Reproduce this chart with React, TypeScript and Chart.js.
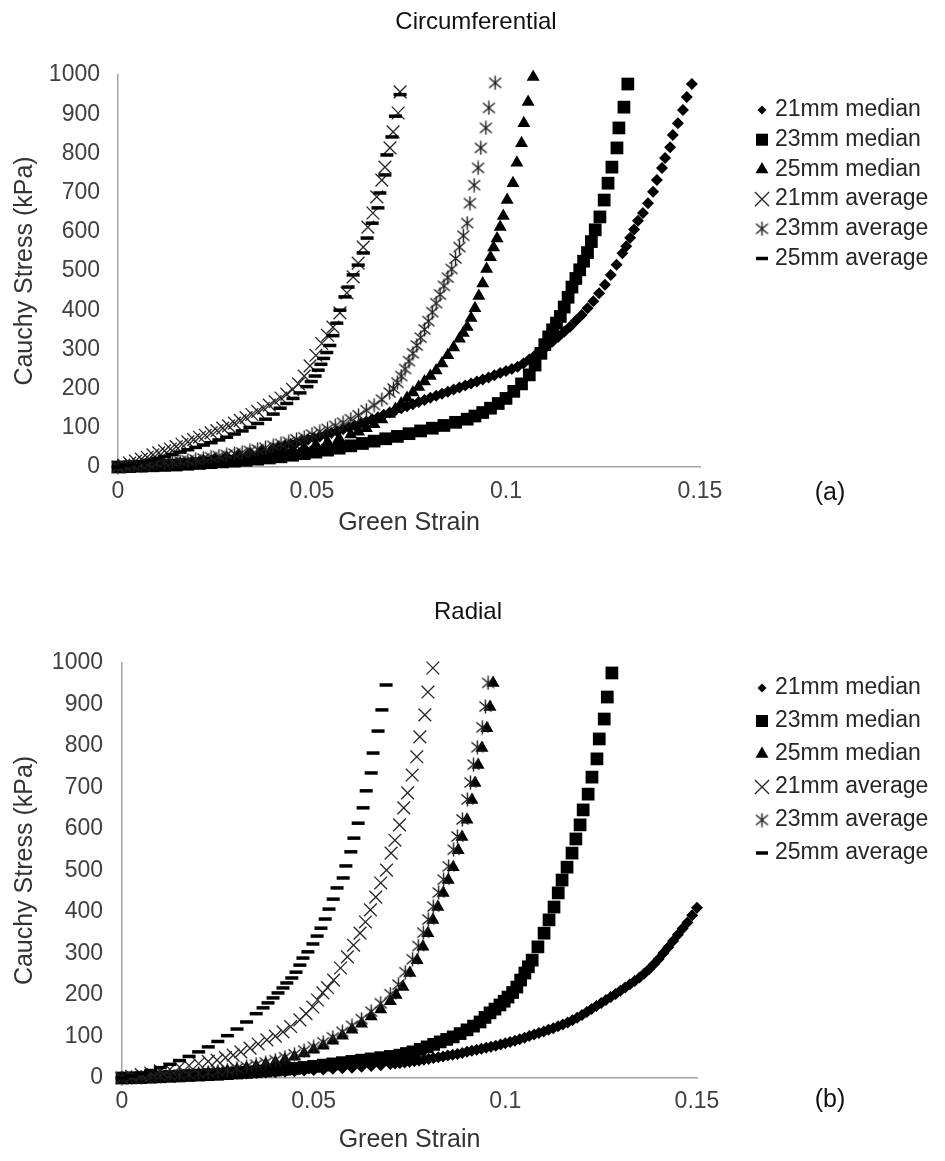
import React, { useEffect, useRef } from 'react';
import { Chart, registerables } from 'chart.js';
import { drawPoint } from 'chart.js/helpers';

Chart.register(...registerables);

type Pt = [number, number];

const FONT = '"Liberation Sans", Arial, sans-serif';

const seriesLabels = ['21mm median', '23mm median', '25mm median', '21mm average', '23mm average', '25mm average'];
const chartTitles = ['Circumferential', 'Radial'];
const panelLabels = ['(a)', '(b)'];
const xAxisTitle = 'Green Strain';
const yAxisTitle = 'Cauchy Stress (kPa)';
const xTickValues = [0, 0.05, 0.1, 0.15];
const xTickLabels = ['0', '0.05', '0.1', '0.15'];
const yTickValues = [0, 100, 200, 300, 400, 500, 600, 700, 800, 900, 1000];
const yTickLabels = ['0', '100', '200', '300', '400', '500', '600', '700', '800', '900', '1000'];

// ---------- Circumferential ----------
const circ21Median: Pt[] = [[0,0],[0.002,1],[0.004,2],[0.006,3],[0.008,4],[0.01,6],[0.013,8],[0.016,11],[0.019,14],[0.022,18],[0.025,22],[0.028,26],[0.031,31],[0.034,36],[0.037,42],[0.04,48],[0.0415,51.5],[0.043,55],[0.0445,58.5],[0.046,62],[0.0475,66],[0.049,70],[0.0505,74],[0.052,78],[0.0535,82.5],[0.055,87],[0.0565,91.5],[0.058,96],[0.0595,101],[0.061,106],[0.0625,111],[0.064,116],[0.0655,121.5],[0.067,127],[0.0685,133],[0.07,139],[0.0715,144.5],[0.073,150],[0.0745,155],[0.076,160],[0.0775,165.5],[0.079,171],[0.0805,176.5],[0.082,182],[0.0835,187],[0.085,192],[0.0865,197.5],[0.088,203],[0.0895,208],[0.091,213],[0.0925,218],[0.094,223],[0.0955,228.5],[0.097,234],[0.0985,239.5],[0.1,245],[0.1015,250],[0.103,256],[0.1045,264],[0.106,274],[0.1075,285],[0.109,296],[0.1105,308],[0.112,320],[0.1135,332],[0.115,345],[0.1165,358],[0.118,373],[0.1195,388],[0.121,405],[0.1225,423],[0.124,443],[0.1255,465],[0.127,490],[0.1285,516],[0.13,545],[0.131,563],[0.132,585],[0.133,606],[0.134,628],[0.1353,648],[0.1366,673],[0.1379,702],[0.1389,732],[0.1402,763],[0.141,788],[0.1423,816],[0.143,847],[0.1443,877],[0.1456,911],[0.1466,944],[0.1479,977]];
const circ23Median: Pt[] = [[0,0],[0.003,1],[0.006,2],[0.009,3],[0.012,4],[0.015,5],[0.018,7],[0.021,9],[0.024,11],[0.027,13],[0.03,15],[0.033,17],[0.036,20],[0.039,23],[0.042,26],[0.045,30],[0.048,34],[0.051,38],[0.054,43],[0.057,48],[0.06,54],[0.063,60],[0.066,66],[0.069,72],[0.072,78],[0.075,85],[0.078,92],[0.081,99],[0.084,106],[0.087,114],[0.09,122],[0.092,130],[0.094,139],[0.096,150],[0.098,162],[0.1,175],[0.102,193],[0.104,212],[0.106,235],[0.1075,260],[0.109,290],[0.11,312],[0.111,332],[0.112,350],[0.113,367],[0.114,384],[0.115,408],[0.116,433],[0.117,459],[0.118,481],[0.119,503],[0.12,525],[0.121,547],[0.122,575],[0.123,605],[0.1242,638],[0.1253,681],[0.1263,724],[0.1273,765],[0.1286,814],[0.1291,865],[0.1304,918],[0.1314,977]];
const circ25Median: Pt[] = [[0,0],[0.003,1],[0.006,2],[0.009,3],[0.012,5],[0.015,6],[0.018,8],[0.021,11],[0.024,14],[0.027,17],[0.03,20],[0.033,24],[0.036,28],[0.039,33],[0.042,38],[0.045,44],[0.048,50],[0.051,57],[0.054,64],[0.057,73],[0.06,83],[0.062,90],[0.064,99],[0.066,109],[0.068,121],[0.07,135],[0.0715,148],[0.073,162],[0.0745,176],[0.076,190],[0.0775,204],[0.079,218],[0.0805,232],[0.082,246],[0.0835,264],[0.085,285],[0.0865,305],[0.088,327],[0.089,342],[0.09,357],[0.091,380],[0.092,405],[0.093,436],[0.094,468],[0.095,505],[0.096,535],[0.0968,560],[0.0977,583],[0.0985,612],[0.0993,640],[0.1003,681],[0.1018,724],[0.1028,776],[0.104,826],[0.1046,877],[0.1057,931],[0.107,995]];
const circ21Average: Pt[] = [[0,0],[0.0015,5],[0.003,10],[0.0045,15],[0.006,20],[0.0075,25],[0.009,31],[0.0105,36],[0.012,41],[0.0135,46],[0.015,52],[0.0165,58],[0.018,64],[0.0195,70],[0.021,76],[0.0225,81],[0.024,87],[0.0255,93],[0.027,99],[0.0285,105],[0.03,112],[0.0315,119],[0.033,126],[0.0345,134],[0.036,142],[0.0375,150],[0.039,158],[0.0405,167],[0.042,176],[0.0435,186],[0.045,198],[0.0465,212],[0.048,232],[0.0495,258],[0.051,285],[0.0525,315],[0.054,336],[0.0554,357],[0.0572,393],[0.059,444],[0.0606,485],[0.0619,520],[0.0632,561],[0.0644,612],[0.0657,648],[0.0667,689],[0.068,732],[0.0688,765],[0.0701,814],[0.0709,855],[0.0722,903],[0.0727,957]];
const circ23Average: Pt[] = [[0,0],[0.002,1],[0.004,3],[0.006,5],[0.008,7],[0.01,9],[0.012,11],[0.014,13],[0.016,15],[0.018,17],[0.02,19],[0.022,22],[0.024,25],[0.026,28],[0.028,31],[0.03,34],[0.032,37],[0.034,41],[0.036,45],[0.038,49],[0.04,54],[0.042,59],[0.044,64],[0.046,70],[0.048,76],[0.05,83],[0.052,90],[0.054,97],[0.056,105],[0.058,113],[0.06,122],[0.062,132],[0.064,145],[0.066,158],[0.068,172],[0.07,190],[0.071,200],[0.072,215],[0.073,232],[0.074,250],[0.075,270],[0.076,290],[0.077,310],[0.078,330],[0.079,351],[0.08,372],[0.081,395],[0.082,418],[0.083,440],[0.084,462],[0.085,483],[0.086,505],[0.087,532],[0.088,561],[0.089,590],[0.09,622],[0.0907,673],[0.0918,719],[0.0928,763],[0.0935,814],[0.0948,865],[0.0956,916],[0.0972,980]];
const circ25Average: Pt[] = [[0,0],[0.002,4],[0.004,8],[0.006,12],[0.008,17],[0.01,22],[0.012,27],[0.014,32],[0.016,38],[0.018,44],[0.02,50],[0.022,56],[0.024,62],[0.026,69],[0.028,76],[0.03,84],[0.032,92],[0.034,101],[0.036,111],[0.038,122],[0.04,135],[0.0418,150],[0.0435,162],[0.0451,175],[0.0469,189],[0.0487,205],[0.0498,218],[0.0508,232],[0.0516,247],[0.0523,262],[0.053,277],[0.0538,292],[0.0546,310],[0.0554,335],[0.0564,367],[0.0572,400],[0.0585,434],[0.0593,459],[0.0606,490],[0.0619,515],[0.0632,546],[0.0642,584],[0.0655,622],[0.067,661],[0.0675,699],[0.0688,745],[0.0693,796],[0.0706,842],[0.0715,895],[0.0727,950]];

// ---------- Radial ----------
const rad21Median: Pt[] = [[0,0],[0.0025,1],[0.005,2],[0.0075,3],[0.01,4],[0.0125,4.5],[0.015,5],[0.0175,6],[0.02,7],[0.0225,7.5],[0.025,8],[0.0275,9],[0.03,10],[0.0325,11],[0.035,12],[0.0375,13],[0.04,14],[0.0425,15],[0.045,16.5],[0.0475,18],[0.05,19],[0.0525,20.5],[0.055,22],[0.0575,23.5],[0.06,25],[0.0625,27],[0.065,29],[0.0675,31],[0.07,33.5],[0.07125,34.7],[0.0725,36],[0.07375,37.5],[0.075,39],[0.07625,40.5],[0.0775,42],[0.07875,44],[0.08,46],[0.08125,48],[0.0825,50],[0.08375,52],[0.085,54],[0.08625,56],[0.0875,58],[0.08875,60.5],[0.09,63],[0.09125,65.5],[0.0925,68],[0.09375,70.5],[0.095,73],[0.09625,75.5],[0.0975,78],[0.09875,81],[0.1,84],[0.10125,87],[0.1025,90],[0.10375,93.5],[0.105,97],[0.10625,101],[0.1075,105],[0.10875,108.5],[0.11,112],[0.11125,116],[0.1125,120],[0.11375,124.5],[0.115,129],[0.11625,134],[0.1175,139],[0.11875,145],[0.12,152],[0.12125,159],[0.1225,166],[0.12375,173.5],[0.125,181],[0.12625,188],[0.1275,195],[0.12875,202.5],[0.13,210],[0.13125,218],[0.1325,226],[0.13375,234],[0.135,242],[0.13625,252],[0.1375,262],[0.13875,274],[0.14,287],[0.14125,301],[0.1425,315],[0.14375,330],[0.145,345],[0.14625,360],[0.1475,375],[0.14875,392],[0.15,410]];
const rad23Median: Pt[] = [[0,0],[0.0025,0.5],[0.005,1],[0.0075,2],[0.01,3],[0.0125,4],[0.015,5],[0.0175,6],[0.02,7],[0.0225,8],[0.025,9],[0.0275,10.5],[0.03,12],[0.0325,13.5],[0.035,15],[0.0375,17],[0.04,19],[0.0425,21],[0.045,23],[0.0475,25.5],[0.05,28],[0.0525,31],[0.055,34],[0.0575,37],[0.06,40],[0.0625,43],[0.065,46],[0.0675,49],[0.07,52],[0.0725,55],[0.0742,59],[0.0759,63],[0.0778,69],[0.0796,75],[0.0813,81],[0.083,87],[0.0847,93],[0.0864,99],[0.0882,107],[0.09,116],[0.0917,125],[0.0934,135],[0.0947,146],[0.096,157],[0.0973,166],[0.0986,176],[0.0997,185],[0.1007,195],[0.1019,206],[0.103,219],[0.104,236],[0.1051,253],[0.106,268],[0.107,284],[0.1085,316],[0.1101,349],[0.1114,381],[0.1127,412],[0.1138,446],[0.1148,477],[0.1161,508],[0.1174,542],[0.1184,576],[0.1195,610],[0.1203,646],[0.1216,684],[0.1226,725],[0.1239,769],[0.1245,817],[0.1258,865],[0.1266,918],[0.1278,976]];
const rad25Median: Pt[] = [[0,0],[0.0025,0.5],[0.005,1],[0.0075,2],[0.01,3],[0.0125,4],[0.015,5.5],[0.0175,7],[0.02,9],[0.0225,11.5],[0.025,14],[0.0275,17],[0.03,20],[0.0325,24],[0.035,28],[0.0375,33],[0.04,38],[0.0425,44],[0.045,51],[0.0475,59],[0.05,68],[0.0525,78],[0.055,90],[0.0575,102],[0.06,116],[0.0625,131],[0.065,148],[0.0675,165],[0.07,185],[0.0715,200],[0.0733,219],[0.0751,253],[0.077,284],[0.0785,316],[0.0798,349],[0.0811,381],[0.0824,412],[0.0838,446],[0.0851,477],[0.0864,508],[0.0877,549],[0.0887,581],[0.09,622],[0.0913,670],[0.0921,711],[0.0929,754],[0.0939,795],[0.0952,843],[0.096,894],[0.0968,952]];
const rad21Average: Pt[] = [[0,0],[0.0025,4],[0.005,8],[0.0075,12],[0.01,17],[0.0125,21],[0.015,26],[0.0175,30],[0.02,35],[0.0225,40],[0.0248,43],[0.027,49],[0.029,55],[0.031,63],[0.0334,72],[0.0355,82],[0.0378,92],[0.04,101],[0.042,111],[0.044,124],[0.0464,140],[0.048,155],[0.0498,171],[0.051,188],[0.0524,205],[0.0536,218],[0.0552,236],[0.057,265],[0.0588,292],[0.0604,320],[0.0621,349],[0.0635,376],[0.0648,405],[0.0662,436],[0.0675,470],[0.069,501],[0.0702,542],[0.0712,573],[0.0724,610],[0.0735,651],[0.0745,687],[0.0757,730],[0.0769,774],[0.0777,822],[0.079,875],[0.0798,930],[0.0811,988]];
const rad23Average: Pt[] = [[0,0],[0.0025,1],[0.005,2],[0.0075,3],[0.01,4],[0.0125,5.5],[0.015,7],[0.0175,9],[0.02,11],[0.0225,13.5],[0.025,16],[0.0275,19],[0.03,23],[0.0325,27],[0.035,32],[0.0375,37],[0.04,43],[0.0425,50],[0.045,57],[0.0475,66],[0.05,75],[0.0525,86],[0.055,98],[0.0575,111],[0.06,126],[0.0625,142],[0.065,160],[0.0675,180],[0.07,202],[0.0721,225],[0.0739,255],[0.0758,286],[0.0773,318],[0.0786,350],[0.0799,382],[0.0812,413],[0.0826,447],[0.0839,478],[0.0852,510],[0.0865,550],[0.0875,582],[0.0888,623],[0.0901,671],[0.0909,712],[0.0917,755],[0.0927,797],[0.094,845],[0.0948,895],[0.0955,952]];
const rad25Average: Pt[] = [[0,0],[0.0025,5],[0.005,11],[0.0075,18],[0.01,25],[0.0125,33],[0.015,42],[0.0175,52],[0.02,63],[0.0225,75],[0.025,88],[0.0275,102],[0.03,118],[0.0325,135],[0.035,155],[0.0368,169],[0.0381,181],[0.0394,193],[0.0407,205],[0.042,217],[0.043,229],[0.0443,241],[0.0454,255],[0.0464,272],[0.0472,289],[0.0485,304],[0.0498,323],[0.0509,342],[0.0519,361],[0.053,383],[0.054,407],[0.0551,431],[0.0561,458],[0.0577,482],[0.0584,511],[0.0597,545],[0.0605,578],[0.0616,614],[0.0629,651],[0.0637,692],[0.065,735],[0.0655,783],[0.0668,836],[0.0678,887],[0.0689,947]];

const circSeries = [circ21Median, circ23Median, circ25Median, circ21Average, circ23Average, circ25Average];
const radSeries = [rad21Median, rad23Median, rad25Median, rad21Average, rad23Average, rad25Average];

const markerStyles = [
  { pointStyle: 'rectRot', radius: 6, legendRadius: 4.5, fill: '#000', stroke: '#000', width: 0 },
  { pointStyle: 'rect', radius: 9, legendRadius: 8.5, fill: '#000', stroke: '#000', width: 0 },
  { pointStyle: 'triangle', radius: 7.5, legendRadius: 7.5, fill: '#000', stroke: '#000', width: 0 },
  { pointStyle: 'crossRot', radius: 9, legendRadius: 10, fill: 'rgba(0,0,0,0)', stroke: '#262626', width: 1.3 },
  { pointStyle: 'asterisk', radius: 7, legendRadius: 7, fill: 'rgba(0,0,0,0)', stroke: '#262626', width: 1.3 },
  { pointStyle: 'line', radius: 6.5, legendRadius: 6, fill: '#000', stroke: '#000', width: 3.5 },
];

let asteriskCanvas: HTMLCanvasElement | null = null;
function getAsterisk(): HTMLCanvasElement {
  if (asteriskCanvas) return asteriskCanvas;
  const s = 15;
  const c = document.createElement('canvas');
  c.width = s;
  c.height = s;
  const g = c.getContext('2d') as CanvasRenderingContext2D;
  g.strokeStyle = '#1e1e1e';
  g.lineWidth = 1.4;
  g.beginPath();
  g.moveTo(7.5, 0.5); g.lineTo(7.5, 14.5);
  g.moveTo(1.5, 2.5); g.lineTo(13.5, 12.5);
  g.moveTo(13.5, 2.5); g.lineTo(1.5, 12.5);
  g.stroke();
  asteriskCanvas = c;
  return c;
}

const decorPlugin = {
  id: 'decor',
  afterDraw(chart: any, _args: any, opts: any) {
    const ctx = chart.ctx as CanvasRenderingContext2D;
    ctx.save();
    ctx.textBaseline = 'middle';
    ctx.textAlign = 'center';
    ctx.fillStyle = '#111';
    ctx.font = `24px ${FONT}`;
    ctx.fillText(opts.title, opts.titleX, opts.titleY);
    chart.data.datasets.forEach((ds: any, i: number) => {
      const ms = markerStyles[i];
      const y = opts.legendTop + i * opts.legendStep;
      ctx.fillStyle = ms.fill;
      ctx.strokeStyle = ms.stroke;
      ctx.lineWidth = ms.width;
      drawPoint(ctx, { pointStyle: ds.pointStyle, radius: ms.legendRadius, rotation: 0, borderWidth: ms.width } as any, opts.markerX, y);
      ctx.fillStyle = '#262626';
      ctx.font = `23px ${FONT}`;
      ctx.textAlign = 'left';
      ctx.fillText(ds.label, opts.textX, y);
    });
    ctx.textAlign = 'center';
    ctx.fillStyle = '#111';
    ctx.font = `25px ${FONT}`;
    ctx.fillText(opts.panel, opts.panelX, opts.panelY);
    ctx.restore();
  },
};

type Layout = {
  height: number; plotLeft: number; plotRight: number; plotTop: number; plotBottom: number;
  titleX: number; titleY: number; xTitleY: number; xTickPad: number; yTickPad: number;
  legendTop: number; legendStep: number; panelY: number;
};

function Panel({ index, series, lay }: { index: number; series: Pt[][]; lay: Layout }) {
  const ref = useRef<HTMLCanvasElement | null>(null);
  useEffect(() => {
    const canvas = ref.current;
    if (!canvas) return;
    const asterisk = getAsterisk();
    const datasets = series.map((pts, i) => {
      const ms = markerStyles[i];
      return {
        label: seriesLabels[i],
        data: pts.map(([x, y]) => ({ x, y })),
        pointStyle: ms.pointStyle === 'asterisk' ? asterisk : ms.pointStyle,
        pointRadius: ms.radius,
        pointHoverRadius: ms.radius,
        pointBackgroundColor: ms.fill,
        pointBorderColor: ms.stroke,
        pointBorderWidth: ms.width,
        backgroundColor: ms.fill,
        borderColor: ms.stroke,
        showLine: false,
        clip: false,
        order: 5 - i,
      };
    });
    const axisTitleFont = { family: FONT, size: 25 };
    const tickFont = { family: FONT, size: 23 };
    const chart = new Chart(canvas, {
      type: 'scatter',
      data: { datasets } as any,
      plugins: [decorPlugin as any],
      options: {
        responsive: false,
        animation: false,
        events: [],
        layout: { padding: { left: 0, top: lay.plotTop, right: 945 - lay.plotRight, bottom: 0 } },
        plugins: {
          legend: { display: false },
          tooltip: { enabled: false },
          title: { display: false },
          decor: {
            title: chartTitles[index], titleX: lay.titleX, titleY: lay.titleY,
            legendTop: lay.legendTop, legendStep: lay.legendStep, markerX: 762, textX: 775,
            panel: panelLabels[index], panelX: 830, panelY: lay.panelY,
          },
        } as any,
        scales: {
          x: {
            type: 'linear',
            min: 0,
            max: 0.15,
            afterBuildTicks: (s: any) => { s.ticks = xTickValues.map((v) => ({ value: v })); },
            afterFit: (s: any) => { s.height = lay.height - lay.plotBottom; },
            ticks: {
              autoSkip: false, maxRotation: 0, padding: lay.xTickPad, color: '#404040', font: tickFont,
              callback: (_v: any, i: number) => xTickLabels[i],
            },
            grid: { display: false, drawTicks: false },
            border: { display: true, color: '#a3a3a3', width: 1.5 },
            title: {
              display: true, text: xAxisTitle, color: '#333', font: axisTitleFont,
              padding: { top: 0, bottom: lay.height - lay.xTitleY - 15 },
            },
          },
          y: {
            type: 'linear',
            min: 0,
            max: 1000,
            afterBuildTicks: (s: any) => { s.ticks = yTickValues.map((v) => ({ value: v })); },
            afterFit: (s: any) => { s.width = lay.plotLeft; },
            ticks: {
              autoSkip: false, padding: lay.yTickPad, color: '#404040', font: tickFont,
              callback: (_v: any, i: number) => yTickLabels[i],
            },
            grid: { display: false, drawTicks: false },
            border: { display: true, color: '#a3a3a3', width: 1.5 },
            title: {
              display: true, text: yAxisTitle, color: '#333', font: axisTitleFont,
              padding: { top: 10, bottom: 0 },
            },
          },
        } as any,
      },
    });
    return () => chart.destroy();
  }, []);
  return <canvas ref={ref} width={945} height={lay.height} style={{ display: 'block', width: 945, height: lay.height }} />;
}

const topLayout: Layout = {
  height: 580, plotLeft: 118, plotRight: 700, plotTop: 75, plotBottom: 467,
  titleX: 476, titleY: 22, xTitleY: 523, xTickPad: 11, yTickPad: 18,
  legendTop: 110, legendStep: 29.7, panelY: 493,
};
const bottomLayout: Layout = {
  height: 581, plotLeft: 122, plotRight: 697, plotTop: 83, plotBottom: 498,
  titleX: 468, titleY: 32, xTitleY: 560, xTickPad: 10, yTickPad: 19,
  legendTop: 108, legendStep: 33, panelY: 520,
};

export default function App() {
  return (
    <div style={{ width: 945, height: 1161, background: '#fff', overflow: 'hidden' }}>
      <style>{'html,body{margin:0;padding:0;background:#fff;}'}</style>
      <Panel index={0} series={circSeries} lay={topLayout} />
      <Panel index={1} series={radSeries} lay={bottomLayout} />
    </div>
  );
}
